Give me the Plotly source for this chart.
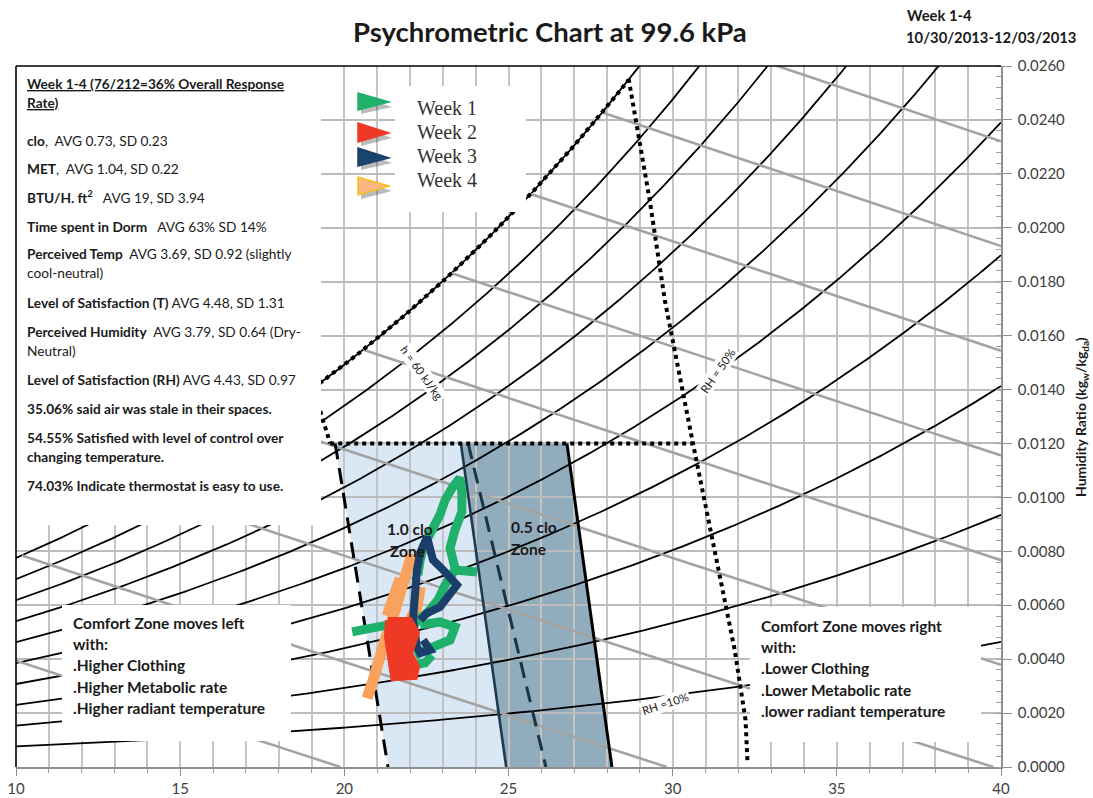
import numpy as np
import plotly.graph_objects as go

PRESSURE_KPA = 99.6

# Psychrometric chart furniture
rh_levels = [10, 20, 30, 40, 50, 60, 70, 80, 90, 100]          # % relative humidity
enthalpy_levels = [20, 30, 40, 50, 60, 70, 80, 90, 100]       # kJ/kg dry air

x_tick_vals = [10, 15, 20, 25, 30, 35, 40]
y_tick_vals = [0.0000, 0.0020, 0.0040, 0.0060, 0.0080, 0.0100, 0.0120,
               0.0140, 0.0160, 0.0180, 0.0200, 0.0220, 0.0240, 0.0260]

# Comfort zones (dry bulb degC, humidity ratio kg/kg)
clo10_zone_t = [19.72, 23.55, 24.93, 21.33]
clo10_zone_w = [0.012, 0.012, 0.0, 0.0]
clo05_zone_t = [23.55, 26.78, 28.15, 24.93]
clo05_zone_w = [0.012, 0.012, 0.0, 0.0]
clo10_dash_t = [19.72, 21.33]
clo10_dash_w = [0.012, 0.0]
clo05_dash_t = [23.77, 26.14]
clo05_dash_w = [0.012, 0.0]
clo05_left_t = [23.55, 24.93]
clo05_left_w = [0.012, 0.0]
clo05_right_t = [26.78, 28.15]
clo05_right_w = [0.012, 0.0]

# Dotted envelope
env_top_t = [19.57, 30.61]
env_top_w = [0.012, 0.012]
env_left_t = [19.05, 19.57]
env_left_w = [0.01405, 0.012]
env_sat_t = [19.05, 28.66]
env_right_t = [28.66, 29.30, 29.76, 30.61, 31.89, 32.22, 32.28]
env_right_w = [0.02552, 0.02103, 0.01732, 0.01205, 0.00434, 0.00174, 0.00015]

# Weekly survey traces
week1_t = [23.37, 23.22, 23.37, 23.58, 23.58, 23.52, 23.28, 23.07, 22.91, 22.67, 22.43, 22.31, 22.24, None,
           24.04, 23.37, 23.07, 22.85, 22.55, 22.24, 22.00, 21.70, None,
           20.24, 20.79, 21.33, 21.85, None,
           22.31, 22.91, 23.37, 23.22, 22.61, 22.15, None,
           22.06, 22.46, 22.67]
week1_w = [0.00738, 0.00812, 0.00879, 0.00946, 0.01020, 0.01072, 0.01035, 0.00990, 0.00935, 0.00879, 0.00823, 0.00768, 0.00712, None,
           0.00723, 0.00731, 0.00675, 0.00619, 0.00575, 0.00545, 0.00508, 0.00501, None,
           0.00501, 0.00516, 0.00527, 0.00527, None,
           0.00527, 0.00538, 0.00519, 0.00471, 0.00441, 0.00415, None,
           0.00378, 0.00386, 0.00415]

week2_t = [21.33, 22.00, 22.21, 22.00, 22.21, 22.15, 21.49, 21.39, 21.30, 21.33]
week2_w = [0.00545, 0.00545, 0.00497, 0.00423, 0.00371, 0.00334, 0.00330, 0.00397, 0.00482, 0.00545]

week3_t = [22.31, 22.52, 22.91, 23.22, 23.43, 23.01, 22.70, 22.52, 22.31, 22.21, 22.15, 22.09,
           22.09, 22.15, 22.21, 22.31, 22.61, 22.40]
week3_w = [0.00545, 0.00571, 0.00593, 0.00645, 0.00675, 0.00731, 0.00768, 0.00853, 0.00794, 0.00731,
           0.00668, 0.00608, 0.00545, 0.00497, 0.00445, 0.00423, 0.00434, 0.00471]

week4_t = [22.06, 21.85, 21.76, 21.61, 21.39, 21.24, 21.09, 20.88, 20.69, None,
           22.31, 22.21, 22.00, 21.85, None,
           21.70, 21.55, 21.30]
week4_w = [0.00790, 0.00705, 0.00645, 0.00582, 0.00519, 0.00471, 0.00397, 0.00323, 0.00255, None,
           0.00668, 0.00593, 0.00545, 0.00500, None,
           0.00700, 0.00640, 0.00560]

week_names = ["Week 1", "Week 2", "Week 3", "Week 4"]
week_colors = ["#1fb06c", "#ee3a24", "#1b3f6b", "#f9a25e"]


def p_ws(t):
    return 0.61094 * np.exp(17.625 * t / (t + 243.04))


def w_from_rh(t, phi):
    pw = phi * p_ws(t)
    return 0.622 * pw / (PRESSURE_KPA - pw)


def w_from_h(t, h):
    return (h - 1.006 * t) / (2501.0 + 1.86 * t)


# ---- figure geometry (pixels) ----
W_PX, H_PX = 1093, 798
L, R, T, B = 16, 1001, 66, 767


def xp(px):
    return (px - L) / (R - L)


def yp(py):
    return (B - py) / (B - T)


fig = go.Figure()

# RH curves
t_grid = np.linspace(10, 40, 601)
for rh in rh_levels:
    fig.add_trace(go.Scatter(x=t_grid, y=w_from_rh(t_grid, rh / 100.0), mode="lines",
                             line=dict(color="black", width=1.8), hoverinfo="skip",
                             showlegend=False))

# Enthalpy lines, from the saturation curve down to W = 0 or the right edge
t_fine = np.linspace(0, 45, 4501)
for h in enthalpy_levels:
    diff = w_from_h(t_fine, h) - w_from_rh(t_fine, 1.0)
    t_sat = t_fine[np.argmax(diff < 0)]
    t0 = max(10.0, t_sat)
    t1 = min(40.0, h / 1.006)
    tt = np.linspace(t0, t1, 200)
    fig.add_trace(go.Scatter(x=tt, y=w_from_h(tt, h), mode="lines",
                             line=dict(color="#a3a3a3", width=2.6), hoverinfo="skip",
                             showlegend=False))


def add_line(tx, wy, color, width, dash=None):
    fig.add_trace(go.Scatter(x=tx, y=wy, mode="lines",
                             line=dict(color=color, width=width, dash=dash),
                             hoverinfo="skip", showlegend=False))


# Zone boundaries
add_line(clo10_dash_t, clo10_dash_w, "black", 3, "16px,9px")
add_line(clo05_dash_t, clo05_dash_w, "#1a3346", 3, "16px,9px")
add_line(clo05_left_t, clo05_left_w, "#1d3a50", 2.6)
add_line(clo05_right_t, clo05_right_w, "black", 3)

sat_t = np.linspace(env_sat_t[0], env_sat_t[1], 120)
add_line(sat_t, w_from_rh(sat_t, 1.0), "black", 4, "dot")
add_line(env_left_t, env_left_w, "black", 4, "dot")
add_line(env_top_t, env_top_w, "black", 4, "dot")
add_line(env_right_t, env_right_w, "black", 4, "dot")

# Weekly observations
fig.add_trace(go.Scatter(x=week4_t, y=week4_w, mode="lines", line=dict(color=week_colors[3], width=11),
                         hoverinfo="skip", showlegend=False))
fig.add_trace(go.Scatter(x=week1_t, y=week1_w, mode="lines", line=dict(color=week_colors[0], width=9),
                         hoverinfo="skip", showlegend=False))
fig.add_trace(go.Scatter(x=week3_t, y=week3_w, mode="lines", line=dict(color=week_colors[2], width=8),
                         hoverinfo="skip", showlegend=False))
fig.add_trace(go.Scatter(x=week2_t, y=week2_w, mode="lines", fill="toself", fillcolor=week_colors[1],
                         line=dict(color=week_colors[1], width=6), hoverinfo="skip", showlegend=False))

shapes = []


def zone_path(tx, wy):
    pts = " L ".join(f"{a},{b}" for a, b in zip(tx, wy))
    return f"M {pts} Z"


shapes.append(dict(type="path", xref="x", yref="y", layer="below", path=zone_path(clo10_zone_t, clo10_zone_w),
                   fillcolor="#dae8f5", line=dict(width=0)))
shapes.append(dict(type="path", xref="x", yref="y", layer="below", path=zone_path(clo05_zone_t, clo05_zone_w),
                   fillcolor="#91acbd", line=dict(width=0)))


def white_box(x0, y0, x1, y1):
    shapes.append(dict(type="rect", xref="paper", yref="paper", layer="above",
                       x0=xp(x0), x1=xp(x1), y0=yp(y1), y1=yp(y0),
                       fillcolor="white", line=dict(width=0)))


white_box(L, T, 321, 525)        # statistics panel
white_box(395, 86, 526, 212)     # week key
white_box(62, 605, 291, 741)     # left note
white_box(750, 607, 981, 742)    # right note

# frame: top and left edges
shapes.append(dict(type="line", xref="paper", yref="paper", x0=0, x1=1, y0=1, y1=1,
                   line=dict(color="black", width=1.6), layer="above"))
shapes.append(dict(type="line", xref="paper", yref="paper", x0=0, x1=0, y0=0, y1=1,
                   line=dict(color="black", width=1.6), layer="above"))


def px_path(points):
    return "M " + " L ".join(f"{xp(a)},{yp(b)}" for a, b in points) + " Z"


# key flags
flag_rows = [(93, 110, 102), (123, 142, 133), (148, 166, 158), (177, 195, 186)]
flag_edges = ["#1fb06c", "#ee3a24", "#1b3f6b", "#f5c21a"]
flag_fills = ["#1fb06c", "#ee3a24", "#17456f", "#fbb680"]
for (ya, yb, ytip), fc, ec in zip(flag_rows, flag_fills, flag_edges):
    shadow = [(361, ya + 4), (361, yb + 4), (392, ytip + 5)]
    shapes.append(dict(type="path", xref="paper", yref="paper", layer="above", path=px_path(shadow),
                       fillcolor="rgba(60,60,60,0.35)", line=dict(width=0)))
    flag = [(358, ya), (358, yb), (389, ytip)]
    shapes.append(dict(type="path", xref="paper", yref="paper", layer="above", path=px_path(flag),
                       fillcolor=fc, line=dict(color=ec, width=1.5)))

annotations = []
FONT = "Lato"
TXT = "#1a1a1a"


def note(px, py, text, size=12, anchor="left", bold=False, color=TXT, family=FONT, angle=0, bg=None):
    if bold:
        text = f"<b>{text}</b>"
    a = dict(xref="paper", yref="paper", x=xp(px), y=yp(py), text=text, showarrow=False,
             xanchor=anchor, yanchor="middle", textangle=angle,
             font=dict(family=family, size=size, color=color))
    if bg:
        a["bgcolor"] = bg
        a["borderpad"] = 1
    annotations.append(a)


NB = "\u00a0"
stats_lines = [
    (83, "<b><u>Week 1-4 (76/212=36% Overall Response</u></b>"),
    (102, "<b><u>Rate)</u></b>"),
    (140, f"<b>clo</b>,{NB} AVG 0.73, SD 0.23"),
    (168, f"<b>MET</b>,{NB} AVG 1.04, SD 0.22"),
    (197, f"<b>BTU/H. ft<sup>2</sup></b>{NB}{NB} AVG 19, SD 3.94"),
    (226, f"<b>Time spent in Dorm</b>{NB}{NB} AVG 63% SD 14%"),
    (254, f"<b>Perceived Temp</b>{NB} AVG 3.69, SD 0.92 (slightly"),
    (272, "cool-neutral)"),
    (302, "<b>Level of Satisfaction (T)</b> AVG 4.48, SD 1.31"),
    (331, f"<b>Perceived Humidity</b>{NB} AVG 3.79, SD 0.64 (Dry-"),
    (350, "Neutral)"),
    (379, "<b>Level of Satisfaction (RH)</b> AVG 4.43, SD 0.97"),
    (408, "<b>35.06% said air was stale in their spaces.</b>"),
    (437, "<b>54.55% Satisfied with level of control over</b>"),
    (456, "<b>changing temperature.</b>"),
    (485, "<b>74.03% Indicate thermostat is easy to use.</b>"),
]
for py, txt in stats_lines:
    note(25, py, txt, size=13.7)

for i, name in enumerate(week_names):
    note(415, [108, 132, 156, 180][i], name, size=20, family="Liberation Serif", color="#333333")

left_note = ["Comfort Zone moves left", "with:", ".Higher Clothing", ".Higher Metabolic rate",
             ".Higher radiant temperature"]
for i, txt in enumerate(left_note):
    note(71, 623 + i * 21.2, txt, size=15.5, bold=True)

right_note = ["Comfort Zone moves right", "with:", ".Lower Clothing", ".Lower Metabolic rate",
              ".lower radiant temperature"]
for i, txt in enumerate(right_note):
    note(759, 626 + i * 21.2, txt, size=15.5, bold=True)

note(385, 529, "1.0 clo", size=15.5, bold=True)
note(388, 551, "Zone", size=15.5, bold=True)
note(509, 527, "0.5 clo", size=15.5, bold=True)
note(509, 549, "Zone", size=15.5, bold=True)

note(422, 372, "h = 60 kJ/kg", size=11.5, anchor="center", angle=54, bg="white")
note(717, 371, "RH = 50%", size=11.5, anchor="center", angle=-55, bg="white")
note(665, 703, "RH =10%", size=11.5, anchor="center", angle=-18, bg="white")

# headings
note(550, 31, "Psychrometric Chart at 99.6 kPa", size=27.5, anchor="center", bold=True)
note(905, 15, "Week 1-4", size=14.8, bold=True)
note(904, 37, "10/30/2013-12/03/2013", size=14.8, bold=True)
note(1082, 417, "Humidity Ratio (kg<sub>w</sub>/kg<sub>da</sub>)", size=14, anchor="center", bold=True,
     angle=-90)

fig.update_layout(
    width=W_PX, height=H_PX,
    margin=dict(l=L, r=W_PX - R, t=T, b=H_PX - B, autoexpand=False),
    paper_bgcolor="white", plot_bgcolor="white",
    showlegend=False,
    shapes=shapes, annotations=annotations,
    font=dict(family=FONT, color="#404040"),
    xaxis=dict(range=[10, 40], tickvals=x_tick_vals, ticktext=[str(v) for v in x_tick_vals],
               automargin=False,
               showgrid=True, gridcolor="#c4c4c4", gridwidth=1.6,
               minor=dict(dtick=1, showgrid=True, gridcolor="#c4c4c4", gridwidth=1.6,
                          ticks="outside", ticklen=4, tickcolor="#a0a0a0"),
               ticks="outside", ticklen=7, tickcolor="#909090",
               showline=True, linecolor="#909090", linewidth=1.5,
               zeroline=False, tickfont=dict(size=15, color="#404040")),
    yaxis=dict(range=[0, 0.026], tickvals=y_tick_vals, tickformat=".4f", side="right",
               automargin=False, ticklabelstandoff=3,
               showgrid=True, gridcolor="#bcbcbc", gridwidth=2,
               minor=dict(dtick=0.0004, showgrid=False, ticks="inside", ticklen=5, tickcolor="#a0a0a0"),
               ticks="outside", ticklen=9, tickcolor="#909090",
               showline=True, linecolor="#909090", linewidth=1.5,
               zeroline=False, tickfont=dict(size=15, color="#404040")),
)

fig.write_html("out.html")
